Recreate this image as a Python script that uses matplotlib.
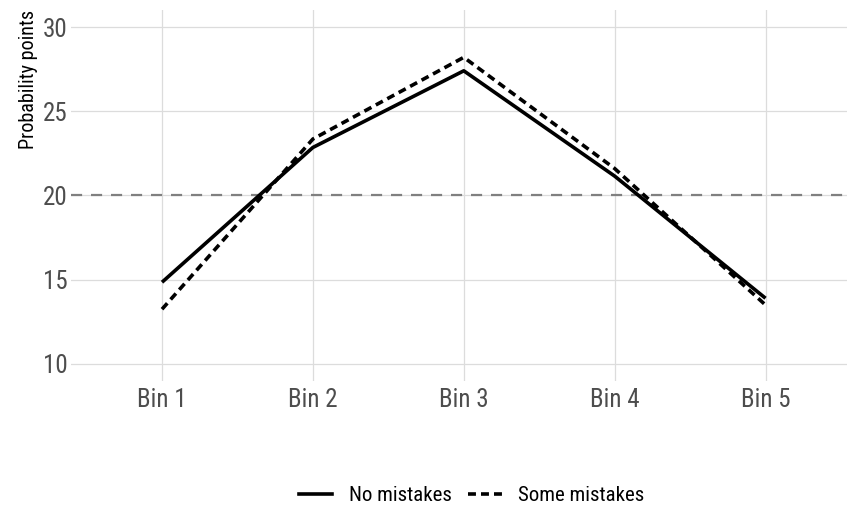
import matplotlib
matplotlib.use("Agg")
import matplotlib.pyplot as plt
from matplotlib.lines import Line2D

bins = ["Bin 1", "Bin 2", "Bin 3", "Bin 4", "Bin 5"]
no_mistakes = [14.85, 22.85, 27.4, 21.15, 13.9]
some_mistakes = [13.25, 23.35, 28.2, 21.6, 13.5]
reference_level = 20
y_ticks = [10, 15, 20, 25, 30]

plt.rcParams["font.family"] = ["Roboto Condensed", "Roboto", "DejaVu Sans"]

fig = plt.figure(figsize=(8.47, 5.08), dpi=100)
ax = fig.add_axes([0.0844, 0.2504, 0.9156, 0.7296])

x = list(range(1, len(bins) + 1))
dash = (0, (2.2, 1.4))
ax.axhline(reference_level, color="#808080", lw=1.6, ls=(0, (5, 4)), zorder=2)
ax.plot(x, no_mistakes, color="black", lw=2.6, solid_capstyle="butt", zorder=3)
ax.plot(x, some_mistakes, color="black", lw=2.6, ls=dash, zorder=3)

ax.set_xlim(0.4, 5.54)
ax.set_ylim(9, 31)
ax.set_xticks(x)
ax.set_xticklabels(bins)
ax.set_yticks(y_ticks)
ax.grid(True, color="#dcdcdc", lw=0.9)
ax.set_axisbelow(True)
for s in ax.spines.values():
    s.set_visible(False)
ax.tick_params(length=0, labelsize=18, labelcolor="#4d4d4d")
ax.tick_params(axis="y", pad=3)
ax.tick_params(axis="x", pad=5)
ax.set_ylabel("Probability points", fontsize=14.5, labelpad=3, loc="top")

handles = [
    Line2D([0], [0], color="black", lw=2.6),
    Line2D([0], [0], color="black", lw=2.6, ls=dash),
]
fig.legend(handles, ["No mistakes", "Some mistakes"], loc="center",
           bbox_to_anchor=(0.557, 0.025), ncol=2, frameon=False,
           fontsize=15, handlelength=1.6, columnspacing=0.8, handletextpad=0.8)

fig.savefig("out.png", dpi=100)
